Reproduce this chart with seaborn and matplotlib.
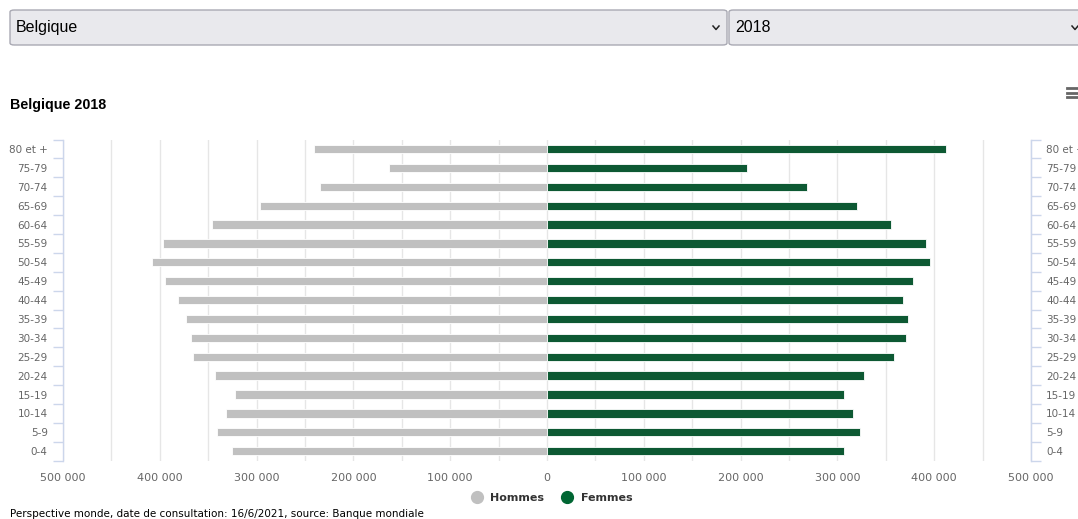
import matplotlib
matplotlib.use("Agg")
import pandas as pd
import matplotlib.pyplot as plt
import seaborn as sns
from matplotlib.lines import Line2D
from matplotlib.patches import FancyBboxPatch
from matplotlib.ticker import FuncFormatter, MultipleLocator

# Data (Belgique 2018)
ages = ["80 et +", "75-79", "70-74", "65-69", "60-64", "55-59", "50-54", "45-49",
        "40-44", "35-39", "30-34", "25-29", "20-24", "15-19", "10-14", "5-9", "0-4"]
hommes = [240900, 163700, 234700, 296700, 345900, 396900, 407900, 395100,
          381000, 373100, 368000, 365900, 342800, 321800, 331800, 340700, 324900]
femmes = [411700, 207100, 268400, 320400, 355600, 391700, 395500, 378600,
          367600, 372800, 370700, 358700, 327700, 306600, 316300, 323500, 307300]

country = "Belgique"
year = "2018"
colors = {"Hommes": "#c0c0c0", "Femmes": "#006633"}

df = pd.concat([
    pd.DataFrame({"age": ages, "population": [-v for v in hommes], "sexe": "Hommes"}),
    pd.DataFrame({"age": ages, "population": femmes, "sexe": "Femmes"}),
])

plt.rcParams["font.family"] = ["DejaVu Sans"]

W, H = 1078, 519
fig = plt.figure(figsize=(W / 100, H / 100), dpi=100)
ax = fig.add_axes([63 / W, 1 - 460.6 / H, 968 / W, 321 / H])

sns.barplot(data=df, x="population", y="age", hue="sexe", order=ages,
            palette=colors, dodge=False, width=0.44, orient="h",
            edgecolor="white", linewidth=0.6, legend=False, ax=ax, zorder=3)

ax.set_xlim(-500000, 500000)
ax.set_ylim(len(ages) - 0.5, -0.5)
ax.set_xlabel("")
ax.set_ylabel("")

# x axis: labels every 100 000, grid every 50 000
ax.xaxis.set_major_locator(MultipleLocator(100000))
ax.xaxis.set_minor_locator(MultipleLocator(50000))
ax.xaxis.set_major_formatter(FuncFormatter(lambda v, p: f"{abs(int(v)):,}".replace(",", " ")))
ax.grid(axis="x", which="both", color="#e6e6e6", linewidth=1, zorder=0)
ax.tick_params(axis="x", which="both", length=0, pad=9, labelsize=8, labelcolor="#666666")
ax.set_axisbelow(True)

for s in ["top", "bottom"]:
    ax.spines[s].set_visible(False)
for s in ["left", "right"]:
    ax.spines[s].set_color("#ccd6eb")
    ax.spines[s].set_linewidth(1)

# y axis: labels at categories, tick marks between them
bounds = [i - 0.5 for i in range(len(ages) + 1)]
ax.set_yticks(bounds, minor=True)
ax.tick_params(axis="y", which="minor", length=7, color="#ccd6eb", width=1)
ax.tick_params(axis="y", which="major", length=0, pad=11, labelsize=7.5, labelcolor="#666666")

ax2 = ax.twinx()
ax2.set_ylim(ax.get_ylim())
ax2.set_yticks(range(len(ages)))
ax2.set_yticklabels(ages)
ax2.set_yticks(bounds, minor=True)
ax2.tick_params(axis="y", which="minor", length=7, color="#ccd6eb", width=1)
ax2.tick_params(axis="y", which="major", length=0, pad=11, labelsize=7.5, labelcolor="#666666")
for s in ["top", "bottom", "left"]:
    ax2.spines[s].set_visible(False)
ax2.spines["right"].set_color("#ccd6eb")

# title
fig.text(10 / W, 1 - 105.5 / H, f"{country} {year}", fontsize=10.3, fontweight="bold",
         family="Liberation Sans", va="center", ha="left", color="#000000")

# legend
handles = [Line2D([], [], marker="o", linestyle="", markersize=8.5,
                  markerfacecolor=colors[k], markeredgecolor=colors[k], label=k)
           for k in ["Hommes", "Femmes"]]
leg = fig.legend(handles=handles, loc="center", bbox_to_anchor=(549 / W, 1 - 498 / H),
                 ncol=2, frameon=False, handletextpad=0.2, columnspacing=1.1,
                 prop={"weight": "bold", "size": 8})
for t in leg.get_texts():
    t.set_color("#333333")

# footer
fig.text(10 / W, 1 - 514 / H,
         "Perspective monde, date de consultation: 16/6/2021, source: Banque mondiale",
         fontsize=7.5, va="center", ha="left", color="#000000")

# dropdown selectors at the top
def select_box(x0, x1, label):
    box = FancyBboxPatch((x0 / W, 1 - 45 / H), (x1 - x0) / W, 35 / H,
                         boxstyle="round,pad=0,rounding_size=0.004",
                         transform=fig.transFigure, facecolor="#e9e9ed",
                         edgecolor="#a9a9b3", linewidth=1)
    fig.patches.append(box)
    fig.text((x0 + 6) / W, 1 - 27.5 / H, label, fontsize=11.5, family="Liberation Sans",
             va="center", ha="left", color="#000000")
    cx = x1 - 11
    fig.add_artist(Line2D([(cx - 3) / W, cx / W, (cx + 3) / W],
                          [1 - 26 / H, 1 - 29.5 / H, 1 - 26 / H],
                          transform=fig.transFigure, color="#222222", linewidth=1.1))

select_box(10, 727, country)
select_box(729, 1086, year)

# menu icon
for yy in [88, 92.5, 97]:
    fig.add_artist(Line2D([1067 / W, 1079 / W], [1 - yy / H, 1 - yy / H],
                          transform=fig.transFigure, color="#666666", linewidth=2))

fig.savefig("out.png", dpi=100)
